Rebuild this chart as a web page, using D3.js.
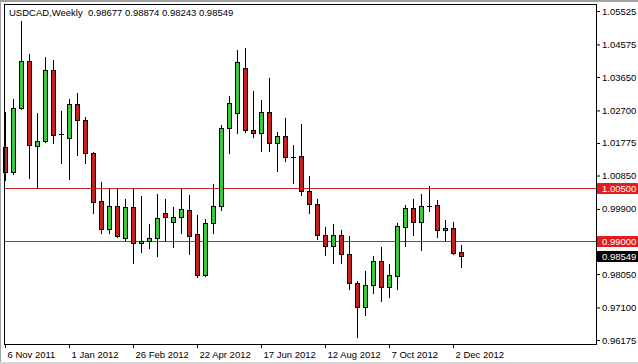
<!DOCTYPE html>
<html>
<head>
<meta charset="utf-8">
<script src="https://cdn.jsdelivr.net/npm/d3@7"></script>
<style>
  body { margin: 0; background: #fff; }
  svg { display: block; font-family: "Liberation Sans", Arial, sans-serif; font-size: 9.5px; }
</style>
</head>
<body>
<div id="chart"></div>
<script>
// USDCAD weekly candles, first week 6 Nov 2011
const symbol = "USDCAD,Weekly";
const firstWeek = Date.UTC(2011, 10, 6);
const opens  = [1.0166,1.0095,1.0277,1.0410,1.0169,1.0183,1.0385,1.0203,1.0192,1.0288,
                1.0243,1.0149,1.0013,0.9933,0.9998,0.9907,0.9996,0.9893,0.9899,0.9907,
                0.9979,0.9953,0.9967,0.9987,0.9919,0.9802,0.9950,0.9998,1.0220,1.0263,
                1.0391,1.0214,1.0206,1.0266,1.0177,1.0197,1.0138,1.0140,1.0041,1.0004,
                0.9916,0.9885,0.9916,0.9862,0.9780,0.9711,0.9774,0.9842,0.9768,0.9799,
                0.9939,0.9993,0.9953,0.9998,1.0001,0.9930,0.9936,0.98677];
const highs  = [1.0266,1.0302,1.0524,1.0430,1.0263,1.0422,1.0413,1.0268,1.0302,1.0320,
                1.0251,1.0152,1.0067,1.0047,1.0047,1.0018,1.0047,1.0027,0.9947,1.0032,
                1.0018,0.9996,1.0047,1.0030,0.9973,0.9961,1.0061,1.0229,1.0311,1.0442,
                1.0447,1.0325,1.0300,1.0362,1.0209,1.0248,1.0172,1.0231,1.0084,1.0018,
                0.9939,0.9947,0.9930,0.9913,0.9785,0.9814,0.9856,0.9882,0.9834,0.9950,
                1.0001,1.0018,1.0032,1.0055,1.0015,0.9959,0.9953,0.98874];
const lows   = [1.0072,1.0089,1.0274,1.0078,1.0050,1.0180,1.0177,1.0121,1.0075,1.0143,
                1.0121,0.9979,0.9922,0.9922,0.9910,0.9902,0.9836,0.9868,0.9879,0.9856,
                0.9899,0.9882,0.9922,0.9862,0.9797,0.9799,0.9922,0.9987,1.0149,1.0206,
                1.0209,1.0194,1.0155,1.0155,1.0098,1.0126,1.0064,1.0030,0.9979,0.9905,
                0.9859,0.9836,0.9836,0.9763,0.9626,0.9689,0.9751,0.9728,0.9740,0.9763,
                0.9885,0.9916,0.9873,0.9984,0.9910,0.9902,0.9862,0.98243];
const closes = [1.0095,1.0277,1.0410,1.0172,1.0183,1.0385,1.0200,1.0203,1.0288,1.0243,
                1.0149,1.0010,0.9933,0.9998,0.9913,0.9996,0.9893,0.9899,0.9907,0.9964,
                0.9967,0.9967,0.9990,0.9913,0.9802,0.9950,0.9998,1.0220,1.0291,1.0408,
                1.0214,1.0206,1.0266,1.0177,1.0197,1.0138,1.0138,1.0041,1.0004,0.9916,
                0.9885,0.9916,0.9862,0.9780,0.9711,0.9774,0.9842,0.9768,0.9802,0.9942,
                0.9993,0.9953,0.9998,0.9998,0.9930,0.9936,0.9865,0.98549];

const priceTicks = [1.05525,1.04575,1.03650,1.02700,1.01775,1.00850,0.99900,0.98050,0.97100,0.96175];
const dateTicks = ["2011-11-06","2012-01-01","2012-02-26","2012-04-22","2012-06-17","2012-08-12","2012-10-07","2012-12-02"];
const levels = [1.005, 0.99];

const width = 638, height = 364;
const bull = "#32cd32", bear = "#c81e1e", lineRed = "#c62828", boxRed = "#e41c1c";

const svg = d3.select("#chart").append("svg")
    .attr("width", width)
    .attr("height", height);

const data = opens.map((o, i) => ({
    date: new Date(firstWeek + i * 7 * 864e5),
    o: o, h: highs[i], l: lows[i], c: closes[i]
}));

const x = d3.scaleUtc()
    .domain([data[0].date, data[data.length - 1].date])
    .range([5, 5 + 8 * (data.length - 1)]);
const y = d3.scaleLinear()
    .domain([0.96175, 1.05525])
    .range([340, 11]);

// window frame
svg.append("rect").attr("x", 0).attr("y", 0).attr("width", width).attr("height", 2).attr("fill", "#a0a0a0");
svg.append("rect").attr("x", 0).attr("y", 0).attr("width", 1).attr("height", height).attr("fill", "#a0a0a0");
svg.append("rect").attr("x", 0).attr("y", height - 2).attr("width", width).attr("height", 2).attr("fill", "#d8d8d8");

// horizontal levels
svg.selectAll("line.level")
    .data(levels)
    .enter()
    .append("line")
    .attr("class", "level")
    .attr("x1", 4).attr("x2", 596)
    .attr("y1", d => Math.round(y(d)) + 0.5)
    .attr("y2", d => Math.round(y(d)) + 0.5)
    .style("stroke", lineRed);

// candles
const candles = svg.append("g");
const cand = candles.selectAll("g")
    .data(data)
    .enter()
    .append("g");

cand.append("line")
    .attr("x1", d => Math.round(x(d.date)) + 0.5)
    .attr("x2", d => Math.round(x(d.date)) + 0.5)
    .attr("y1", d => Math.round(y(d.h)))
    .attr("y2", d => Math.round(y(d.l)) + 1)
    .style("stroke", "black");

cand.each(function(d) {
    const g = d3.select(this);
    const cx = Math.round(x(d.date));
    const top = Math.round(y(Math.max(d.o, d.c)));
    const bot = Math.round(y(Math.min(d.o, d.c)));
    if (bot - top < 1) {
        g.append("line")
            .attr("x1", cx - 2).attr("x2", cx + 3)
            .attr("y1", top + 0.5).attr("y2", top + 0.5)
            .style("stroke", "black");
    } else {
        g.append("rect")
            .attr("x", cx - 1.5)
            .attr("y", top + 0.5)
            .attr("width", 4)
            .attr("height", bot - top)
            .style("fill", d.c >= d.o ? bull : bear)
            .style("stroke", "black");
    }
});

// plot frame
svg.append("rect")
    .attr("x", 4.5).attr("y", 4.5)
    .attr("width", 592).attr("height", 340)
    .style("fill", "none")
    .style("stroke", "black");

// price axis
const yAxis = svg.append("g")
    .attr("transform", "translate(597,0)")
    .call(d3.axisRight(y).tickValues(priceTicks).tickFormat(d3.format(".5f")).tickSize(3).tickPadding(2));
yAxis.select(".domain").remove();
yAxis.selectAll("text").style("font-family", "inherit").style("font-size", "9.5px").attr("fill", "black");

// date axis
const parse = d3.utcParse("%Y-%m-%d");
const xAxis = svg.append("g")
    .attr("transform", "translate(0,344)")
    .call(d3.axisBottom(x).tickValues(dateTicks.map(parse)).tickFormat(d3.utcFormat("%-d %b %Y")).tickSize(4).tickPadding(3));
xAxis.select(".domain").remove();
xAxis.selectAll("text")
    .attr("x", 2)
    .attr("text-anchor", "start")
    .style("font-family", "inherit")
    .style("font-size", "9.5px")
    .attr("fill", "black");

// price labels for levels and last close
const last = data[data.length - 1];
const tags = levels.map(v => ({v: v, bg: boxRed})).concat([{v: last.c, bg: "black"}]);
const tag = svg.selectAll("g.tag")
    .data(tags)
    .enter()
    .append("g")
    .attr("class", "tag")
    .attr("transform", d => "translate(597," + Math.round(y(d.v)) + ")");
tag.append("rect")
    .attr("x", 0).attr("y", -5)
    .attr("width", 41).attr("height", 11)
    .style("fill", d => d.bg);
tag.append("text")
    .attr("x", 5).attr("y", 0.5)
    .attr("dy", "0.32em")
    .style("fill", "white")
    .text(d => d3.format(".5f")(d.v));

// title
svg.append("text")
    .attr("x", 9).attr("y", 16)
    .style("white-space", "pre")
    .text(symbol + "  " + [last.o, last.h, last.l, last.c].map(d3.format(".5f")).join(" "));
</script>
</body>
</html>
